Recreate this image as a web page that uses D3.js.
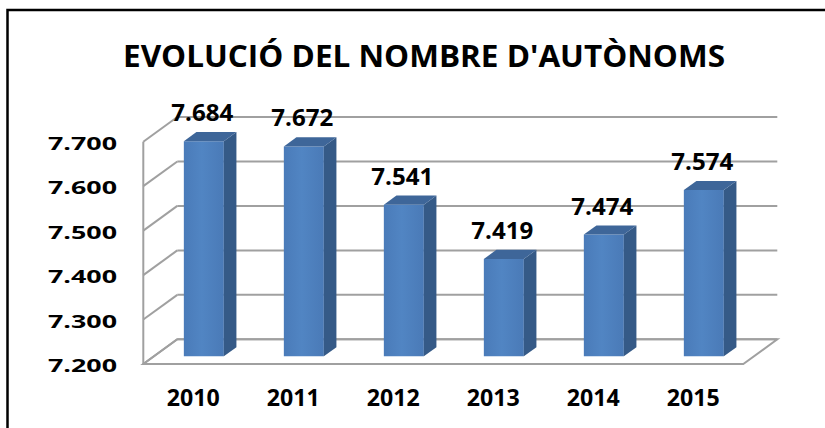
<!DOCTYPE html>
<html><head><meta charset="utf-8">
<script src="https://cdn.jsdelivr.net/npm/d3@7"></script>
<style>html,body{margin:0;padding:0;background:#fff;} svg{display:block;}</style>
</head><body>
<svg id="chart" width="825" height="428"></svg>
<script>
const title = "EVOLUCIÓ DEL NOMBRE D'AUTÒNOMS";
const years = ["2010", "2011", "2012", "2013", "2014", "2015"];
const values = [7684, 7672, 7541, 7419, 7474, 7574];
const tickValues = [7200, 7300, 7400, 7500, 7600, 7700];

const W = 825, H = 428;
const svg = d3.select("#chart");
const fmt = d3.formatLocale({decimal: ",", thousands: ".", grouping: [3], currency: ["", ""]}).format(",");

const plotLeft = 143.3, plotRight = 743.3, floorY = 364, topY = 141.7;
const DX = 34, DY = -24.7;
const f0 = 0.31, f1 = 0.68;
const x = d3.scaleBand().domain(years).range([plotLeft, plotRight]).paddingInner(0.6).paddingOuter(0.3);
const y = d3.scaleLinear().domain([7200, 7700]).range([floorY, topY]);
const P = (px, v, f) => [px + DX * f, y(v) + DY * f];
const poly = pts => "M" + pts.map(p => p.join(",")).join("L") + "Z";

// outer frame
svg.append("path").attr("d", `M7.5,${H + 5}V10H${W + 5}`)
  .attr("fill", "none").attr("stroke", "#000").attr("stroke-width", 2.5);

// title
svg.append("text").attr("x", 424).attr("y", 66.7)
  .attr("text-anchor", "middle")
  .attr("font-family", "'Open Sans', sans-serif").attr("font-weight", 700)
  .attr("font-size", 30.5).attr("textLength", 602).attr("lengthAdjust", "spacingAndGlyphs")
  .attr("fill", "#000").text(title);

const gridColor = "#a0a0a0";
const grid = svg.append("g").attr("stroke", gridColor).attr("stroke-width", 2).attr("fill", "none");

// floor
grid.append("path").attr("fill", "#fff")
  .attr("d", poly([P(plotLeft, 7200, 0), P(plotRight, 7200, 0), P(plotRight, 7200, 1), P(plotLeft, 7200, 1)]));

// back wall gridlines and side wall diagonals
tickValues.forEach(t => {
  grid.append("path").attr("d", "M" + P(plotLeft, t, 1).join(",") + "L" + P(plotRight, t, 1).join(","));
  grid.append("path").attr("d", "M" + P(plotLeft, t, 0).join(",") + "L" + P(plotLeft, t, 1).join(","));
});
// front-left edge of side wall
grid.append("path").attr("d", "M" + P(plotLeft, tickValues[0], 0).join(",") + "L" + P(plotLeft, tickValues[tickValues.length - 1], 0).join(","));

// gradient for front face
const defs = svg.append("defs");
const grad = defs.append("linearGradient").attr("id", "frontGrad").attr("x1", 0).attr("x2", 1).attr("y1", 0).attr("y2", 0);
grad.append("stop").attr("offset", "0%").attr("stop-color", "#4a7bb9");
grad.append("stop").attr("offset", "45%").attr("stop-color", "#5185c3");
grad.append("stop").attr("offset", "100%").attr("stop-color", "#4a7ab7");

const bw = x.bandwidth();
const bars = svg.append("g");
years.forEach((yr, i) => {
  const v = values[i];
  const xl = x(yr), xr = xl + bw;
  bars.append("path").attr("fill", "url(#frontGrad)")
    .attr("d", poly([P(xl, v, f0), P(xr, v, f0), P(xr, 7200, f0), P(xl, 7200, f0)]));
  bars.append("path").attr("fill", "#355a87")
    .attr("d", poly([P(xr, v, f0), P(xr, v, f1), P(xr, 7200, f1), P(xr, 7200, f0)]));
  bars.append("path").attr("fill", "#3e6699")
    .attr("d", poly([P(xl, v, f0), P(xr, v, f0), P(xr, v, f1), P(xl, v, f1)]));
});

// data labels
const labels = svg.append("g").attr("font-family", "'Open Sans', sans-serif").attr("font-weight", 700)
  .attr("font-size", 23).attr("fill", "#000").attr("text-anchor", "middle");
years.forEach((yr, i) => {
  const v = values[i];
  const p = P(x(yr) + bw / 2, v, f0);
  labels.append("text").attr("x", p[0] - 1.5).attr("y", p[1] - 20)
    .attr("textLength", 62).attr("lengthAdjust", "spacingAndGlyphs").text(fmt(v));
});

// y tick labels
const yt = svg.append("g").attr("font-family", "'Open Sans', sans-serif").attr("font-weight", 700)
  .attr("font-size", 18.5).attr("fill", "#000").attr("text-anchor", "end");
tickValues.forEach(t => {
  yt.append("text").attr("x", 117).attr("y", y(t) + 1.5).attr("dy", "0.36em")
    .attr("textLength", 69).attr("lengthAdjust", "spacingAndGlyphs").text(fmt(t));
});

// x category labels
const xt = svg.append("g").attr("font-family", "'Open Sans', sans-serif").attr("font-weight", 700)
  .attr("font-size", 23).attr("fill", "#000").attr("text-anchor", "middle");
years.forEach(yr => {
  xt.append("text").attr("x", x(yr) + bw / 2).attr("y", y(7200) + 42)
    .attr("textLength", 53).attr("lengthAdjust", "spacingAndGlyphs").text(yr);
});
</script>
</body></html>
